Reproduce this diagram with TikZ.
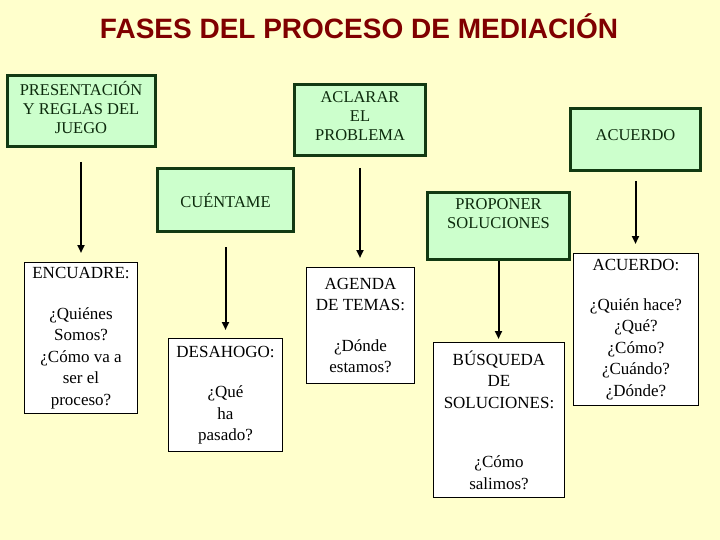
\documentclass[tikz,border=0pt]{standalone}
\usepackage{fontspec}
\setmainfont{Liberation Serif}
\newfontfamily\titlefont{Liberation Sans}
\usepackage{tikz}
\usetikzlibrary{arrows.meta, positioning}
\definecolor{fondo}{RGB}{255,255,204}
\definecolor{verdeclaro}{RGB}{204,255,204}
\definecolor{verdeoscuro}{RGB}{18,58,18}
\definecolor{textoverde}{RGB}{12,42,12}
\definecolor{rojotitulo}{RGB}{128,0,0}

\tikzset{
  fase/.style={draw=verdeoscuro, line width=3pt, fill=verdeclaro, text=textoverde,
    align=center, font=\fontsize{16.5}{19}\selectfont},
  etapa/.style={draw=black, line width=1pt, fill=white, align=center,
    font=\fontsize{17}{21.5}\selectfont},
  flecha/.style={line width=2pt, -{Triangle[length=8pt, width=7pt]}}
}

\begin{document}
\begin{tikzpicture}[x=1pt, y=-1pt]
  % Background
  \fill[fondo] (0,0) rectangle (720,540);
  \useasboundingbox (0,0) rectangle (720,540);

  % Title
  \node[rojotitulo, font=\titlefont\bfseries\fontsize{28}{32}\selectfont] (titulo) at (359,26)
    {FASES DEL PROCESO DE MEDIACIÓN};

  % Phases (green boxes)
  \node[fase, minimum width=148pt, minimum height=71pt, text depth=8pt] (pres) at (81,111)
    {PRESENTACIÓN\\Y REGLAS DEL\\JUEGO};
  \node[fase, minimum width=131pt, minimum height=71pt, text depth=8pt] (aclarar) at (360,120)
    {ACLARAR\\EL\\PROBLEMA};
  \node[fase, minimum width=130pt, minimum height=62pt, text depth=8pt] (acuerdo) at (635.5,139.5)
    {ACUERDO};
  \node[fase, minimum width=136pt, minimum height=63pt] (cuentame) at (225.5,200)
    {CUÉNTAME};
  \node[fase, minimum width=142pt, minimum height=67pt, text depth=24pt] (proponer) at (498.5,226)
    {PROPONER\\SOLUCIONES};

  % Steps (white boxes)
  \node[etapa, minimum width=113pt, minimum height=151pt] (encuadre) at (81,338)
    {ENCUADRE:\\[19pt]¿Quiénes\\Somos?\\¿Cómo va a\\ser el\\proceso?};
  \node[etapa, minimum width=114pt, minimum height=113pt] (desahogo) at (225.5,395)
    {DESAHOGO:\\[19pt]¿Qué\\ha\\pasado?};
  \node[etapa, minimum width=108pt, minimum height=116pt] (agenda) at (360.5,325.5)
    {AGENDA\\DE TEMAS:\\[19pt]¿Dónde\\estamos?};
  \node[etapa, minimum width=131pt, minimum height=155pt] (busqueda) at (499,420)
    {BÚSQUEDA\\DE\\SOLUCIONES:\\[38pt]¿Cómo\\salimos?};
  \node[etapa, minimum width=125pt, minimum height=152pt] (acuerdofin) at (636,329.5)
    {ACUERDO:\\[18pt]¿Quién hace?\\¿Qué?\\¿Cómo?\\¿Cuándo?\\¿Dónde?};

  % Arrows
  \draw[flecha, shorten <=14pt, shorten >=9pt] (pres.south) -- (pres.south |- encuadre.north);
  \draw[flecha, shorten <=14pt, shorten >=8pt] (cuentame.south) -- (cuentame.south |- desahogo.north);
  \draw[flecha, shorten <=11pt, shorten >=9pt] (aclarar.south) -- (aclarar.south |- agenda.north);
  \draw[flecha, shorten >=3pt] (proponer.south) -- (proponer.south |- busqueda.north);
  \draw[flecha, shorten <=9pt, shorten >=9pt] (acuerdo.south) -- (acuerdo.south |- acuerdofin.north);
\end{tikzpicture}
\end{document}
